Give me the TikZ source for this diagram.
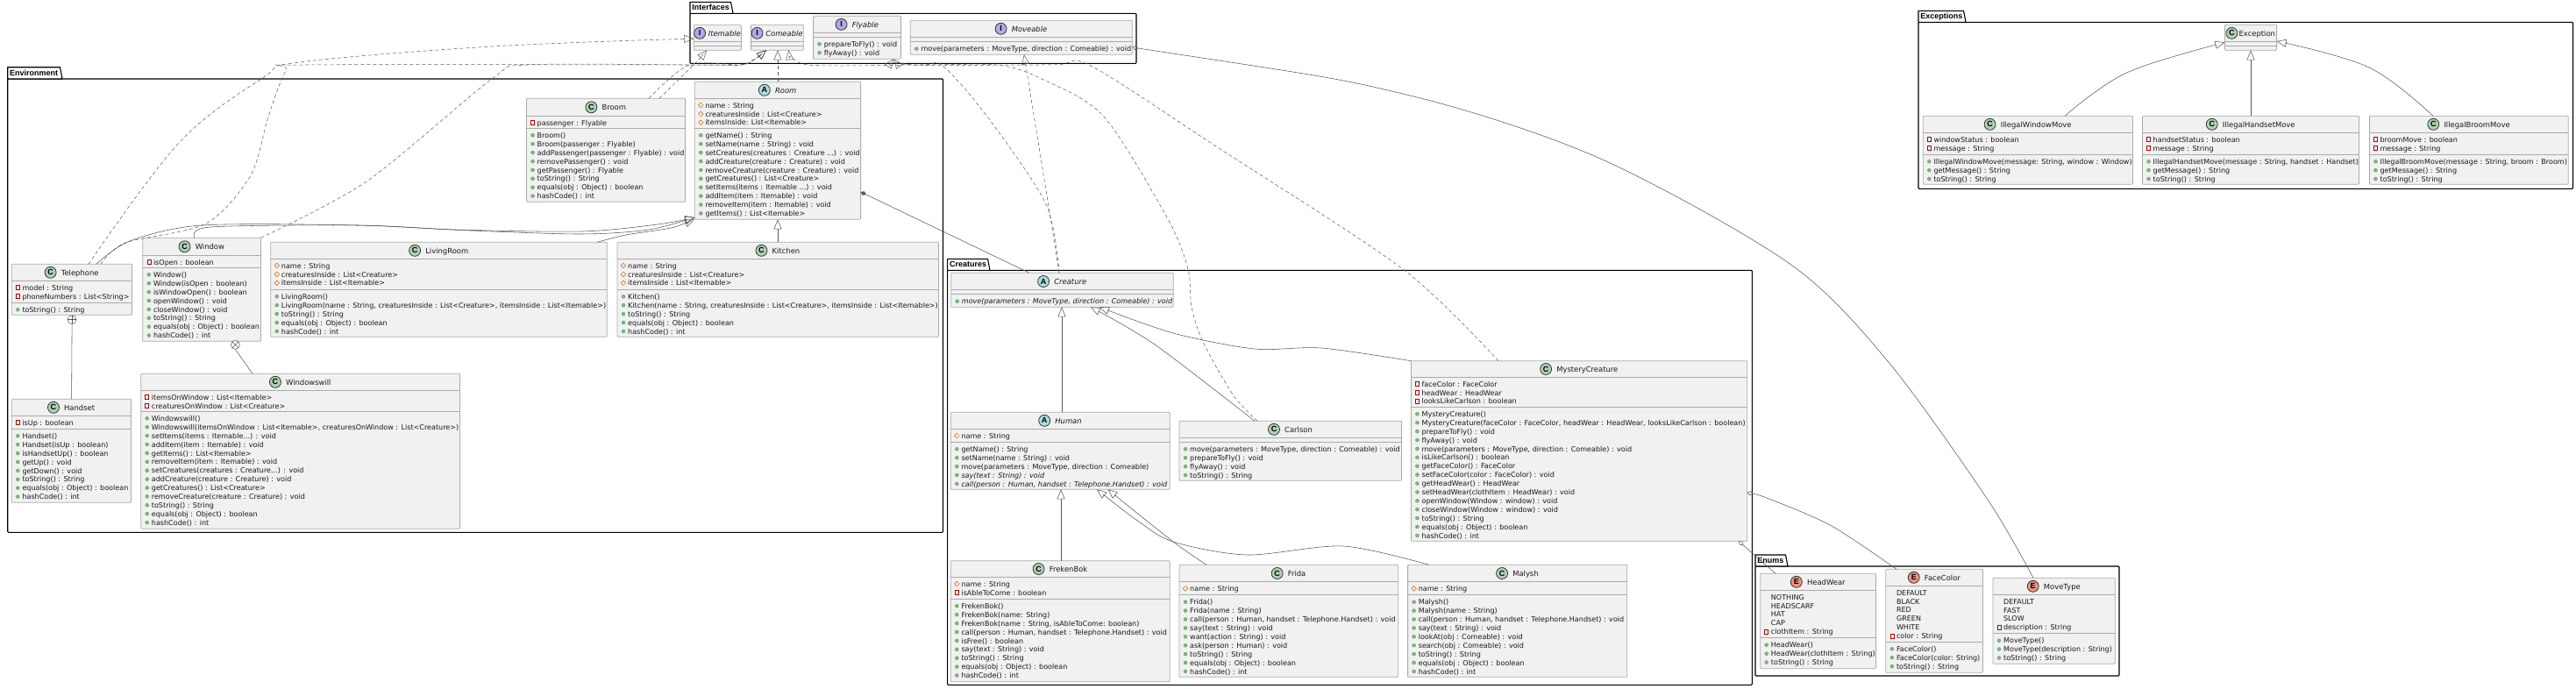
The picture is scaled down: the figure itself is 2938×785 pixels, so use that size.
\documentclass[tikz,border=0pt]{standalone}
\usepackage{fontspec}
\setmainfont{DejaVu Sans}
\newfontfamily\labelfont{Liberation Sans}
\usetikzlibrary{arrows.meta}
\definecolor{boxfill}{HTML}{F1F1F1}
\definecolor{boxline}{HTML}{ABABAB}
\definecolor{wire}{HTML}{585858}
\definecolor{icC}{HTML}{ADD1B2}
\definecolor{icA}{HTML}{A9DCDF}
\definecolor{icI}{HTML}{B4A7E5}
\definecolor{icE}{HTML}{EB937F}
\newcommand\memfont{\fontsize{8.05}{9.9}\selectfont}
\newcommand\ttlfont{\fontsize{8.4}{10}\selectfont}
\newcount\linecnt
\tikzset{
  classbox/.style={draw=boxline,fill=boxfill,line width=0.8pt,rounded corners=1pt,outer sep=0pt,inner sep=0pt},
  sepline/.style={draw=boxline,line width=0.8pt},
  pkgbody/.style={draw=black,fill=white,line width=1.1pt,rounded corners=1pt,outer sep=0pt,inner sep=0pt},
  pkgtab/.style={draw=black,fill=white,line width=1.1pt,line join=round},
  pkglabel/.style={font=\labelfont\fontsize{9}{10}\selectfont\bfseries,inner sep=0pt,anchor=base west},
  member/.style={font=\memfont,inner sep=0pt,anchor=base west,text=black!90},
  ttl/.style={font=\ttlfont,inner sep=0pt,anchor=base,text=black!90},
  ico/.style={circle,draw=black!85,line width=0.7pt,minimum size=13pt,inner sep=0pt,font=\labelfont\fontsize{9}{9}\selectfont\bfseries},
  nest/.style={circle,draw=wire,fill=white,line width=0.5pt,minimum size=10pt,inner sep=0pt},
  gen/.style={draw=wire,line width=0.55pt,-{Triangle[open,length=11pt,width=9pt]}},
  dep/.style={draw=wire,line width=0.5pt,dash pattern=on 4pt off 3pt,-{Triangle[open,length=11pt,width=9pt]}},
  assoc/.style={draw=wire,line width=0.55pt},
  comp/.style={draw=wire,line width=0.55pt,{Diamond[length=7pt,width=5pt]}-},
  aggr/.style={draw=wire,line width=0.55pt,{Diamond[open,length=7pt,width=5pt]}-},
}
% package: id x0 ytab xtab ybody x1 y1 label
\newcommand\umlpkg[8]{%
  \pgfmathsetmacro\pw{#6-#2}\pgfmathsetmacro\ph{#7-#5}%
  \pgfmathsetmacro\pcx{(#2+#6)/2}\pgfmathsetmacro\pcy{(#5+#7)/2}%
  \node[pkgbody,minimum width=\pw pt,minimum height=\ph pt] (#1) at (\pcx,\pcy) {};
  \pgfmathsetmacro\ptb{#4-2.5}\pgfmathsetmacro\plx{#2+2.2}\pgfmathsetmacro\ply{#5-3.4}%
  \draw[pkgtab] (#1.north west) -- (#2,#3) -- (\ptb,#3) -- (#4,#5) -- cycle;
  \node[pkglabel] (#1-label) at (\plx,\ply) {#8};
}
\newcommand\ttlgap{12}
% class: id x0 y0 x1 y1 yh ys kind-letter title
\newcommand\umlclass[9]{%
  \pgfmathsetmacro\bw{#4-#2}\pgfmathsetmacro\bh{#5-#3}%
  \pgfmathsetmacro\bcx{(#2+#4)/2}\pgfmathsetmacro\bcy{(#3+#5)/2}%
  \node[classbox,minimum width=\bw pt,minimum height=\bh pt] (#1) at (\bcx,\bcy) {};
  \draw[sepline] (#1.west |- 0,#6) -- (#1.east |- 0,#6);
  \draw[sepline] (#1.west |- 0,#7) -- (#1.east |- 0,#7);
  \pgfmathsetmacro\tcy{(#3+#6)/2}%
  \pgfmathsetmacro\ttx{\bcx+(6.5+\ttlgap)/2}\pgfmathsetmacro\tty{\tcy+3.2}%
  \node[ttl] (#1-title) at (\ttx,\tty) {#9};
  \node[ico,fill=ic#8] (#1-icon) at ([xshift=-\ttlgap pt]#1-title.west |- 0,\tcy) {#8};
  \xdef\curid{#1}\xdef\curx{#2}\xdef\curyh{#6}\xdef\curys{#7}\global\linecnt=0
  \gdef\ttlgap{12}%
}
\newcommand\attrs{\pgfmathsetmacro\tmpy{\curyh+7.7}\xdef\cury{\tmpy}}
\newcommand\meths{\pgfmathsetmacro\tmpy{\curys+8}\xdef\cury{\tmpy}}
\newcommand\memline[1]{%
  \global\advance\linecnt by 1
  \pgfmathsetmacro\lx{\curx+12}\pgfmathsetmacro\lb{\cury+3.1}%
  \node[member] (\curid-\the\linecnt) at (\lx,\lb) {#1};
  \pgfmathsetmacro\tmpy{\cury+9.9}\xdef\cury{\tmpy}%
}
\newcommand\pub[1]{\pgfmathsetmacro\ix{\curx+7}%
  \draw[draw=green!45!black!70,fill=green!45!black!50,line width=0.3pt] (\ix,\cury) circle (2pt);
  \memline{#1}}
\newcommand\prv[1]{\pgfmathsetmacro\ix{\curx+7}%
  \pgfmathsetmacro\ixa{\ix-2}\pgfmathsetmacro\ixb{\ix+2}\pgfmathsetmacro\iya{\cury-2.5}\pgfmathsetmacro\iyb{\cury+2.5}%
  \draw[draw=red!70!black,fill=boxfill,line width=0.5pt] (\ixa,\iya) rectangle (\ixb,\iyb);
  \memline{#1}}
\newcommand\pro[1]{\pgfmathsetmacro\ix{\curx+7}%
  \pgfmathsetmacro\ixa{\ix-2.8}\pgfmathsetmacro\ixb{\ix+2.8}\pgfmathsetmacro\iya{\cury-2.8}\pgfmathsetmacro\iyb{\cury+2.8}%
  \draw[draw=orange!80!black,fill=boxfill,line width=0.5pt] (\ixa,\cury) -- (\ix,\iya) -- (\ixb,\cury) -- (\ix,\iyb) -- cycle;
  \memline{#1}}
\newcommand\cons[1]{\memline{#1}}
\begin{document}
\begin{tikzpicture}[x=1pt,y=-1pt]
\useasboundingbox (0,0) rectangle (2938,785);
% packages
\umlpkg{envpkg}{8.7}{76.7}{71}{90}{1075.5}{607.3}{Environment}
\umlpkg{ifacepkg}{787}{2.3}{836}{15.3}{1296}{72.3}{Interfaces}
\umlpkg{excpkg}{2188}{12.3}{2242}{25.3}{2934.5}{215.3}{Exceptions}
\umlpkg{crepkg}{1080.6}{295.3}{1129}{308.3}{1998.3}{781.3}{Creatures}
\umlpkg{enumpkg}{2002}{633}{2039}{646}{2417}{771}{Enums}
% interfaces
\gdef\ttlgap{9.5}
\umlclass{itemable}{791.3}{28.3}{845.4}{57.3}{47.3}{52.3}{I}{\itshape Itemable}
\gdef\ttlgap{9.5}
\umlclass{comeable}{856.6}{28.3}{916.3}{57.3}{47.3}{52.3}{I}{\itshape Comeable}
\umlclass{flyable}{927.6}{18.3}{1027.6}{67.3}{37.3}{42.3}{I}{\itshape Flyable}
\meths\pub{prepareToFly() : void}\pub{flyAway() : void}
\umlclass{moveable}{1038.3}{23.3}{1291.3}{62.3}{42.3}{47.6}{I}{\itshape Moveable}
\meths\pub{move(parameters : MoveType, direction : Comeable) : void}
% environment
\umlclass{broom}{600.5}{112.3}{781.6}{230.3}{132.3}{146.3}{C}{Broom}
\attrs\prv{passenger : Flyable}
\meths\pub{Broom()}\pub{Broom(passenger : Flyable)}\pub{addPassenger(passenger : Flyable) : void}\pub{removePassenger() : void}\pub{getPassenger() : Flyable}\pub{toString() : String}\pub{equals(obj : Object) : boolean}\pub{hashCode() : int}
\umlclass{room}{792.3}{93.3}{981.6}{250.3}{112.3}{146.3}{A}{\itshape Room}
\attrs\pro{name : String}\pro{creaturesInside : List<Creature>}\pro{itemsInside: List<Itemable>}
\meths\pub{getName() : String}\pub{setName(name : String) : void}\pub{setCreatures(creatures : Creature ...) : void}\pub{addCreature(creature : Creature) : void}\pub{removeCreature(creature : Creature) : void}\pub{getCreatures() : List<Creature>}\pub{setItems(items : Itemable ...) : void}\pub{addItem(item : Itemable) : void}\pub{removeItem(item : Itemable) : void}\pub{getItems() : List<Itemable>}
\umlclass{telephone}{13.3}{301.3}{150.5}{359.3}{320.3}{345.3}{C}{Telephone}
\attrs\prv{model : String}\prv{phoneNumbers : List<String>}
\meths\pub{toString() : String}
\umlclass{window}{162.8}{271.3}{297.4}{389.3}{291.3}{305.3}{C}{Window}
\attrs\prv{isOpen : boolean}
\meths\pub{Window()}\pub{Window(isOpen : boolean)}\pub{isWindowOpen() : boolean}\pub{openWindow() : void}\pub{closeWindow() : void}\pub{toString() : String}\pub{equals(obj : Object) : boolean}\pub{hashCode() : int}
\umlclass{livingroom}{308.7}{276.3}{692.3}{384.3}{295.3}{330.3}{C}{LivingRoom}
\attrs\pro{name : String}\pro{creaturesInside : List<Creature>}\pro{itemsInside : List<Itemable>}
\meths\pub{LivingRoom()}\pub{LivingRoom(name : String, creaturesInside : List<Creature>, itemsInside : List<Itemable>)}\pub{toString() : String}\pub{equals(obj : Object) : boolean}\pub{hashCode() : int}
\umlclass{kitchen}{704}{276.3}{1070.4}{384.3}{295.3}{330.3}{C}{Kitchen}
\attrs\pro{name : String}\pro{creaturesInside : List<Creature>}\pro{itemsInside : List<Itemable>}
\meths\pub{Kitchen()}\pub{Kitchen(name : String, creaturesInside : List<Creature>, itemsInside : List<Itemable>)}\pub{toString() : String}\pub{equals(obj : Object) : boolean}\pub{hashCode() : int}
\umlclass{handset}{13.3}{455.3}{149.5}{573.3}{474.3}{489.3}{C}{Handset}
\attrs\prv{isUp : boolean}
\meths\pub{Handset()}\pub{Handset(isUp : boolean)}\pub{isHandsetUp() : boolean}\pub{getUp() : void}\pub{getDown() : void}\pub{toString() : String}\pub{equals(obj : Object) : boolean}\pub{hashCode() : int}
\umlclass{windowswill}{160.7}{426.3}{524.5}{603.3}{445.3}{469.3}{C}{Windowswill}
\attrs\prv{itemsOnWindow : List<Itemable>}\prv{creaturesOnWindow : List<Creature>}
\meths\pub{Windowswill()}\pub{Windowswill(itemsOnWindow : List<Itemable>, creaturesOnWindow : List<Creature>)}\pub{setItems(items : Itemable...) : void}\pub{addItem(item : Itemable) : void}\pub{getItems() : List<Itemable>}\pub{removeItem(item : Itemable) : void}\pub{setCreatures(creatures : Creature...) : void}\pub{addCreature(creature : Creature) : void}\pub{getCreatures() : List<Creature>}\pub{removeCreature(creature : Creature) : void}\pub{toString() : String}\pub{equals(obj : Object) : boolean}\pub{hashCode() : int}
% exceptions
\gdef\ttlgap{8}
\umlclass{exception}{2537.4}{28.3}{2596.6}{57.3}{47.3}{52.3}{C}{Exception}
\umlclass{illwin}{2193.3}{132.3}{2432.5}{210.3}{151.3}{176.3}{C}{IllegalWindowMove}
\attrs\prv{windowStatus : boolean}\prv{message : String}
\meths\pub{IllegalWindowMove(message: String, window : Window)}\pub{getMessage() : String}\pub{toString() : String}
\umlclass{illhand}{2443.5}{132.3}{2690.5}{210.3}{151.3}{176.3}{C}{IllegalHandsetMove}
\attrs\prv{handsetStatus : boolean}\prv{message : String}
\meths\pub{IllegalHandsetMove(message : String, handset : Handset)}\pub{getMessage() : String}\pub{toString() : String}
\umlclass{illbroom}{2702.4}{132.3}{2929.2}{210.3}{151.3}{176.3}{C}{IllegalBroomMove}
\attrs\prv{broomMove : boolean}\prv{message : String}
\meths\pub{IllegalBroomMove(message : String, broom : Broom)}\pub{getMessage() : String}\pub{toString() : String}
% creatures
\umlclass{creature}{1084.7}{311.3}{1338.3}{350.3}{330.7}{335.7}{A}{\itshape Creature}
\meths\pub{\itshape move(parameters : MoveType, direction : Comeable) : void}
\umlclass{human}{1084.3}{470.3}{1334.3}{558.3}{489.3}{504.3}{A}{\itshape Human}
\attrs\pro{name : String}
\meths\pub{getName() : String}\pub{setName(name : String) : void}\pub{move(parameters : MoveType, direction : Comeable)}\pub{\itshape say(text : String) : void}\pub{\itshape call(person : Human, handset : Telephone.Handset) : void}
\umlclass{carlson}{1345}{480.3}{1598.5}{548.3}{499.3}{504.3}{C}{Carlson}
\meths\pub{move(parameters : MoveType, direction : Comeable) : void}\pub{prepareToFly() : void}\pub{flyAway() : void}\pub{toString() : String}
\umlclass{mystery}{1609.4}{411.7}{1992.7}{617.3}{430.3}{464.3}{C}{MysteryCreature}
\attrs\prv{faceColor : FaceColor}\prv{headWear : HeadWear}\prv{looksLikeCarlson : boolean}
\meths\pub{MysteryCreature()}\pub{MysteryCreature(faceColor : FaceColor, headWear : HeadWear, looksLikeCarlson : boolean)}\pub{prepareToFly() : void}\pub{flyAway() : void}\pub{move(parameters : MoveType, direction : Comeable) : void}\pub{isLikeCarlson() : boolean}\pub{getFaceColor() : FaceColor}\pub{setFaceColor(color : FaceColor) : void}\pub{getHeadWear() : HeadWear}\pub{setHeadWear(clothItem : HeadWear) : void}\pub{openWindow(Window : window) : void}\pub{closeWindow(Window : window) : void}\pub{toString() : String}\pub{equals(obj : Object) : boolean}\pub{hashCode() : int}
\umlclass{frekenbok}{1084.3}{639.7}{1334.3}{777.7}{658.3}{683.3}{C}{FrekenBok}
\attrs\pro{name : String}\prv{isAbleToCome : boolean}
\meths\pub{FrekenBok()}\pub{FrekenBok(name: String)}\pub{FrekenBok(name : String, isAbleToCome: boolean)}\pub{call(person : Human, handset : Telephone.Handset) : void}\pub{isFree() : boolean}\pub{say(text : String) : void}\pub{toString() : String}\pub{equals(obj : Object) : boolean}\pub{hashCode() : int}
\umlclass{frida}{1345}{644.3}{1594.7}{772.3}{663.7}{678.7}{C}{Frida}
\attrs\pro{name : String}
\meths\pub{Frida()}\pub{Frida(name : String)}\pub{call(person : Human, handset : Telephone.Handset) : void}\pub{say(text : String) : void}\pub{want(action : String) : void}\pub{ask(person : Human) : void}\pub{toString() : String}\pub{equals(obj : Object) : boolean}\pub{hashCode() : int}
\umlclass{malysh}{1605.6}{644.3}{1855.8}{772.3}{663.7}{678.7}{C}{Malysh}
\attrs\pro{name : String}
\meths\pub{Malysh()}\pub{Malysh(name : String)}\pub{call(person : Human, handset : Telephone.Handset) : void}\pub{say(text : String) : void}\pub{lookAt(obj : Comeable) : void}\pub{search(obj : Comeable) : void}\pub{toString() : String}\pub{equals(obj : Object) : boolean}\pub{hashCode() : int}
% enums
\umlclass{headwear}{2007.7}{654.3}{2139.4}{762.7}{673.3}{727.7}{E}{HeadWear}
\attrs\cons{NOTHING}\cons{HEADSCARF}\cons{HAT}\cons{CAP}\prv{clothItem : String}
\meths\pub{HeadWear()}\pub{HeadWear(clothItem : String)}\pub{toString() : String}
\umlclass{facecolor}{2150.8}{649.3}{2261.5}{767.3}{668.3}{732.3}{E}{FaceColor}
\attrs\cons{DEFAULT}\cons{BLACK}\cons{RED}\cons{GREEN}\cons{WHITE}\prv{color : String}
\meths\pub{FaceColor()}\pub{FaceColor(color: String)}\pub{toString() : String}
\umlclass{movetype}{2272.9}{659.3}{2412.2}{757.3}{678.3}{722.7}{E}{MoveType}
\attrs\cons{DEFAULT}\cons{FAST}\cons{SLOW}\prv{description : String}
\meths\pub{MoveType()}\pub{MoveType(description : String)}\pub{toString() : String}
% nesting marks
\node[nest,path picture={\draw[wire,line width=0.5pt] (path picture bounding box.north) -- (path picture bounding box.south) (path picture bounding box.west) -- (path picture bounding box.east);}] (telnest) at (82.1,364.7) {};
\node[nest,path picture={\draw[wire,line width=0.5pt] (path picture bounding box.north west) -- (path picture bounding box.south east) (path picture bounding box.south west) -- (path picture bounding box.north east);}] (winnest) at (268.4,393.3) {};
% connectors: realisation
\draw[dep] plot[smooth,tension=0.6] coordinates {(101,0 |- telephone.north) (204,163) (301,88) (342,71) (561,53) (itemable.west |- 0,44)};
\draw[dep] plot[smooth,tension=0.5] coordinates {(115,0 |- telephone.north) (143,277) (235,255) (286,200) (306,133) (326.5,80) (347,74) (786,74) (845,74) (860,68) (874,0 |- comeable.south)};
\draw[dep] plot[smooth,tension=0.5] coordinates {(window.north east) (418,207) (561,90) (602,74) (786,74) (845,74) (860,68) (874,0 |- comeable.south)};
\draw[dep] plot[smooth,tension=0.5] coordinates {(740,0 |- broom.north) (786,74) (845,74) (860,68) (874,0 |- comeable.south)};
\draw[dep] plot[smooth,tension=0.5] coordinates {(752,0 |- broom.north) (790,75) (797,68) (806,0 |- itemable.south)};
\draw[dep] (887,0 |- room.north) -- (887,0 |- comeable.south);
\draw[dep] plot[smooth,tension=0.5] coordinates {(1208,0 |- creature.north) (1193,233) (1126,133) (1075,75) (1050,74) (922,74) (899.5,0 |- comeable.south)};
\draw[dep] plot[smooth,tension=0.5] coordinates {(1208,0 |- creature.north) (1193,217) (1174,100) (1168,0 |- moveable.south)};
\draw[dep] plot[smooth,tension=0.5] coordinates {(1434,0 |- carlson.north) (1406,450) (1372,390) (1359,350) (1355,307) (1332,250) (1259,133) (1188,90) (1137,74) (1040,74) (1019.4,0 |- flyable.south)};
\draw[dep] plot[smooth,tension=0.5] coordinates {(1709,0 |- mystery.north) (1600,307) (1387,167) (1244,75) (1200,74) (1040,74) (1019.4,0 |- flyable.south)};
% connectors: generalisation
\draw[gen] plot[smooth,tension=0.5] coordinates {(110,0 |- telephone.north) (148,275) (230,257) (408,257) (536,263) (663,267) (740,262) (room.west |- 0,248)};
\draw[gen] plot[smooth,tension=0.5] coordinates {(222,0 |- window.north) (240,259) (408,257) (520,262) (663,264) (750,256) (room.west |- 0,248)};
\draw[gen] plot[smooth,tension=0.5] coordinates {(681,0 |- livingroom.north) (714,268) (765,260) (792,0 |- room.south)};
\draw[gen] (887,0 |- kitchen.north) -- (887,0 |- room.south);
\draw[gen] (1211,0 |- human.north) -- (1211,0 |- creature.south);
\draw[gen] plot[smooth,tension=0.5] coordinates {(1431,0 |- carlson.north) (1317,393) (1244,0 |- creature.south)};
\draw[gen] plot[smooth,tension=0.5] coordinates {(mystery.north west) (1507,397) (1431,398) (1338,380) (1254,0 |- creature.south)};
\draw[gen] (1210,0 |- frekenbok.north) -- (1210,0 |- human.south);
\draw[gen] plot[smooth,tension=0.5] coordinates {(1376,0 |- frida.north) (1338,618) (1263.4,0 |- human.south)};
\draw[gen] plot[smooth,tension=0.5] coordinates {(1629.6,0 |- malysh.north) (1532,623) (1422.5,633) (1338,618) (1296,593) (1251,0 |- human.south)};
\draw[gen] plot[smooth,tension=0.6] coordinates {(2355,0 |- illwin.north) (2425.5,83) (exception.west |- 0,48.5)};
\draw[gen] (2567,0 |- illhand.north) -- (2567,0 |- exception.south);
\draw[gen] plot[smooth,tension=0.6] coordinates {(2775,0 |- illbroom.north) (2702,77) (exception.east |- 0,47)};
% connectors: whole-part and nesting
\draw[comp] (room.east |- 0,219) -- (1174,0 |- creature.north);
\draw[aggr] plot[smooth,tension=0.5] coordinates {(moveable.east |- 0,54) (1600,107) (1823,180) (2040,300) (2153,412) (2267,570) (2319,0 |- movetype.north)};
\draw[aggr] (1983,0 |- mystery.south) -- (2025,0 |- headwear.north);
\draw[aggr] plot[smooth,tension=0.5] coordinates {(mystery.east |- 0,562) (2020,570) (2089,600) (2163,0 |- facecolor.north)};
\draw[assoc] (telnest.south) -- (81.6,0 |- handset.north);
\draw[assoc] (winnest.south) -- (288,0 |- windowswill.north);
\end{tikzpicture}
\end{document}
